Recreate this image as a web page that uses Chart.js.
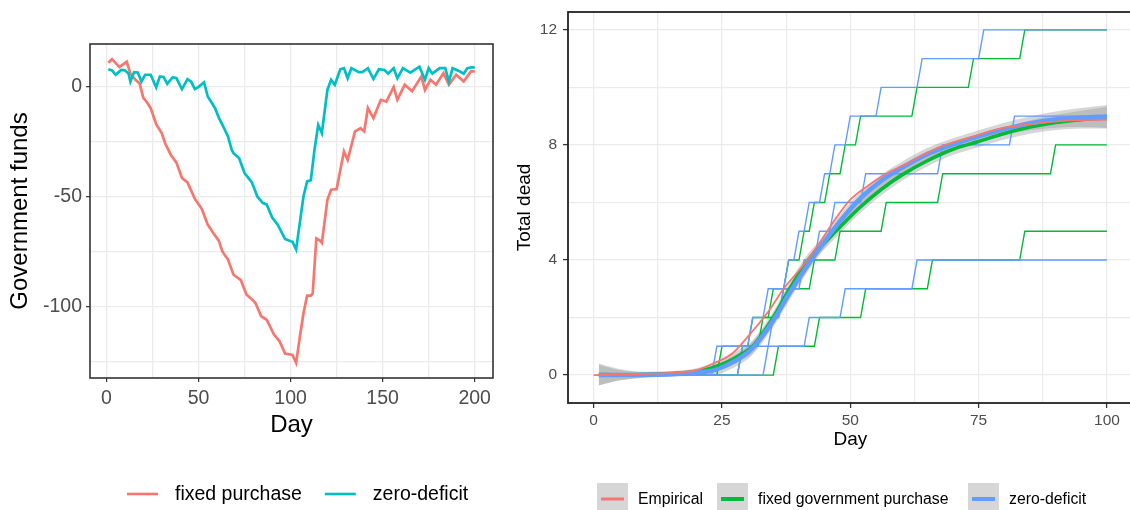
<!DOCTYPE html>
<html>
<head>
<meta charset="utf-8">
<script src="https://cdn.jsdelivr.net/npm/chart.js@4.4.1/dist/chart.umd.min.js"></script>
<style>
  html, body { margin: 0; padding: 0; background: #fff; overflow: hidden; }
  body { width: 1130px; height: 510px; position: relative; }
  #fundsChart { position: absolute; left: 0; top: 0; }
  #deadChart { position: absolute; left: 500px; top: 0; }
</style>
</head>
<body>
<canvas id="fundsChart" width="500" height="510"></canvas>
<canvas id="deadChart" width="634" height="510"></canvas>
<script>
// ---- left panel: government funds by day ----
const fixedDays = [1, 3, 7, 11, 13, 16, 18, 20, 22, 24,
  27, 30, 32, 35, 38, 41, 44, 48, 51, 52,
  55, 58, 61, 63, 66, 69, 73, 76, 80, 81,
  84, 87, 91, 94, 97, 100, 101, 103, 105, 107,
  109, 111, 112, 114, 116, 117, 120, 122, 125, 129,
  131, 135, 138, 140, 142, 145, 149, 152, 156, 158,
  162, 166, 171, 173, 176, 179, 183, 186, 190, 194,
  198, 200];
const fixedFunds = [11, 12.6, 9, 11.4, 6, 3, 1.5, -5, -7, -9.7,
  -17, -21, -26, -31, -34.5, -41.5, -43.5, -51, -54.5, -56,
  -62.7, -66.5, -70, -75, -78.6, -85.5, -88, -94.5, -97.5, -98.5,
  -104.4, -106, -112.7, -115.8, -121.4, -121.8, -122, -125.6, -114, -103,
  -95, -95, -94, -69, -70, -71, -51.4, -46.8, -46.5, -29.4,
  -33.2, -20.3, -18.8, -20.3, -9.7, -14.2, -5.9, -6.7, 0, -5.9,
  1, -2, 4.7, -1.4, 3.2, 1, 6.2, 1, 5.5, 2.4,
  7, 7];

const zeroDays = [1, 3, 5, 8, 10, 12, 13, 15, 17, 19,
  21, 24, 27, 29, 31, 33, 36, 38, 41, 44,
  46, 48, 50, 53, 55, 57, 59, 61, 63, 66,
  68, 69, 72, 75, 79, 82, 85, 87, 90, 93,
  97, 100, 101, 103, 105, 107, 109, 111, 113, 115,
  117, 120, 122, 124, 127, 129, 131, 133, 137, 139,
  142, 145, 148, 151, 153, 156, 158, 161, 165, 170,
  173, 175, 177, 181, 184, 186, 188, 192, 194, 196,
  199, 200];
const zeroFunds = [8, 7.5, 5.5, 7.7, 7.5, 6, 2.4, 6.7, 6.5, 2.4,
  5.5, 5.5, -0.2, 4.7, 4.5, 1.4, 4.4, 4, -1, 3.5,
  2.4, -1, 0, 2, -4.4, -7, -9.7, -14, -17.3, -22.6,
  -28.6, -30.2, -32.4, -39.2, -43.5, -50, -52.9, -53.5, -59.5, -62.7,
  -69.2, -70.3, -70.5, -74, -62, -49.9, -43, -42.5, -28.6, -17.3,
  -21, -1.4, 3.2, 0.9, 8, 8.5, 3.9, 8.5, 6.7, 6.7,
  8.5, 3.6, 8, 7.7, 6, 8.5, 3.9, 8.5, 6.5, 9.2,
  3.2, 8.5, 6, 8.5, 8.5, 2.4, 8.5, 7, 6, 8.5,
  9, 8.5];

const fundsLabels = ['fixed purchase', 'zero-deficit'];

// ---- right panel: total dead by day ----
const empDays = [0, 5, 10, 15, 20, 24, 27, 30, 34, 37, 41, 44, 47, 50, 54, 57, 61, 67, 74, 80, 87, 93, 100];
const empDead = [0, 0.02, 0.04, 0.08, 0.17, 0.46, 0.75, 1.33, 2.2, 3.0, 3.85, 4.6, 5.4, 6.1, 6.65, 7.0, 7.35, 7.9, 8.3, 8.6, 8.76, 8.85, 8.88];

const smoothDays = [1, 5, 10, 15, 20, 23, 26, 29, 31, 35, 38, 42, 45, 48, 52, 56, 60, 65, 70, 75, 80, 85, 90, 95, 100];
const fixedSmooth = [0.02, 0.01, 0.02, 0.05, 0.12, 0.25, 0.45, 0.75, 1.0, 2.0, 2.95, 4.05, 4.6, 5.15, 5.85, 6.45, 6.95, 7.45, 7.85, 8.12, 8.4, 8.62, 8.78, 8.88, 8.95];
const fixedBand = [0.38, 0.2, 0.1, 0.09, 0.12, 0.16, 0.19, 0.21, 0.22, 0.22, 0.22, 0.22, 0.22, 0.22, 0.21, 0.21, 0.2, 0.2, 0.2, 0.2, 0.21, 0.23, 0.26, 0.31, 0.38];
const zeroSmooth = [0.0, 0.0, 0.01, 0.03, 0.09, 0.15, 0.35, 0.65, 0.95, 1.9, 2.8, 3.9, 4.65, 5.35, 6.15, 6.75, 7.2, 7.68, 8.02, 8.3, 8.55, 8.75, 8.88, 8.95, 8.99];
const zeroBand = [0.36, 0.18, 0.1, 0.09, 0.12, 0.17, 0.2, 0.22, 0.23, 0.23, 0.23, 0.23, 0.22, 0.22, 0.22, 0.21, 0.21, 0.21, 0.21, 0.21, 0.22, 0.24, 0.28, 0.33, 0.4];

// day on which each run first reaches 1, 2, 3, ... dead
const fixedRuns = [
  [25, 31, 35, 38, 41, 43, 46, 49, 52, 63, 74, 84],
  [29, 33, 37, 43, 48, 57, 68, 90],
  [36, 44, 53, 66, 84]
];
const zeroRuns = [
  [24, 31, 34, 38, 40, 42, 45, 47, 50, 56, 64, 76],
  [29, 35, 37, 41, 44, 47, 53, 68, 82],
  [34, 42, 49, 63]
];

const deadLabels = ['Empirical', 'fixed government purchase', 'zero-deficit'];

const RED = '#F8766D', CYAN = '#00BFC4', GREEN = '#00BA38', BLUE = '#619CFF';
const BAND = 'rgba(153,153,153,0.4)';
const FONT = '"Liberation Sans", Arial, Helvetica, sans-serif';
Chart.defaults.font.family = FONT;

function toPoints(xs, ys) {
  return xs.map((x, i) => ({ x: x, y: ys[i] }));
}
function bandPoints(xs, ys, hw, sign) {
  return xs.map((x, i) => ({ x: x, y: ys[i] + sign * hw[i] }));
}
function stepPoints(riseDays) {
  const pts = [{ x: 1, y: 0 }];
  riseDays.forEach((d, i) => {
    pts.push({ x: d - 1, y: i });
    pts.push({ x: d, y: i + 1 });
  });
  pts.push({ x: 100, y: riseDays.length });
  return pts;
}

function panelBorder(color, width) {
  return {
    id: 'panelBorder',
    afterDraw(chart) {
      const a = chart.chartArea, ctx = chart.ctx;
      ctx.save();
      ctx.strokeStyle = color;
      ctx.lineWidth = width;
      ctx.strokeRect(a.left, a.top, a.right - a.left, a.bottom - a.top);
      ctx.restore();
    }
  };
}

function tickMark(step) {
  return ctx => (ctx.tick && Math.abs(ctx.tick.value % step) < 1e-6) ? '#333333' : 'rgba(0,0,0,0)';
}
function tickText(step) {
  return v => (Math.abs(v % step) < 1e-6) ? String(v) : '';
}
// keep the plot area where it is: no extra room for edge labels
function fixWidth(w) {
  return s => { s.width = w; s.paddingTop = 0; s.paddingBottom = 0; };
}
function fixHeight(h) {
  return s => { s.height = h; s.paddingLeft = 0; s.paddingRight = 0; };
}

// ---------- left chart ----------
const fundsLegend = {
  id: 'fundsLegend',
  afterDraw(chart) {
    const ctx = chart.ctx;
    const colors = [RED, CYAN];
    ctx.save();
    ctx.font = '19.5px ' + FONT;
    ctx.textBaseline = 'middle';
    let x = 127;
    const y = 494;
    fundsLabels.forEach((label, i) => {
      ctx.strokeStyle = colors[i];
      ctx.lineWidth = 2.6;
      ctx.beginPath();
      ctx.moveTo(x, y);
      ctx.lineTo(x + 31, y);
      ctx.stroke();
      ctx.fillStyle = '#000';
      ctx.fillText(label, x + 48, y + 1);
      x += 48 + ctx.measureText(label).width + 23;
    });
    ctx.restore();
  }
};

new Chart(document.getElementById('fundsChart'), {
  type: 'line',
  data: {
    datasets: [
      { label: fundsLabels[0], data: toPoints(fixedDays, fixedFunds), borderColor: RED,
        borderWidth: 2.7, pointRadius: 0, tension: 0, order: 1 },
      { label: fundsLabels[1], data: toPoints(zeroDays, zeroFunds), borderColor: CYAN,
        borderWidth: 2.7, pointRadius: 0, tension: 0, order: 0 }
    ]
  },
  options: {
    responsive: false,
    animation: false,
    layout: { padding: { top: 44, right: 7, left: 0, bottom: 0 } },
    plugins: { legend: { display: false }, tooltip: { enabled: false } },
    scales: {
      x: {
        type: 'linear', min: -8.95, max: 209.95,
        border: { display: false },
        grid: { color: '#EBEBEB', lineWidth: 1.3, tickLength: 4, tickWidth: 1.2, tickColor: tickMark(50) },
        ticks: { stepSize: 25, includeBounds: false, autoSkip: false, maxRotation: 0, padding: 5,
          color: '#4D4D4D', font: { size: 19.5 }, callback: tickText(50) },
        title: { display: true, text: 'Day', color: '#000', font: { size: 24 }, padding: { top: 0, bottom: 70.6 } },
        afterFit: fixHeight(132)
      },
      y: {
        type: 'linear', min: -132.5, max: 19.5,
        border: { display: false },
        grid: { color: '#EBEBEB', lineWidth: 1.3, tickLength: 4, tickWidth: 1.2, tickColor: tickMark(50) },
        ticks: { stepSize: 25, includeBounds: false, autoSkip: false, padding: 4,
          color: '#4D4D4D', font: { size: 19.5 }, callback: tickText(50) },
        title: { display: true, text: 'Government funds', color: '#000', font: { size: 24 }, padding: { top: 5.6, bottom: 0 } },
        afterFit: fixWidth(90)
      }
    }
  },
  plugins: [panelBorder('#333333', 1.6), fundsLegend]
});

// ---------- right chart ----------
const deadDatasets = [];
deadDatasets.push({ label: deadLabels[0], data: toPoints(empDays, empDead), borderColor: RED,
  borderWidth: 1.8, pointRadius: 0, cubicInterpolationMode: 'monotone', order: 0 });
deadDatasets.push({ label: deadLabels[2], data: toPoints(smoothDays, zeroSmooth), borderColor: BLUE,
  borderWidth: 4.5, pointRadius: 0, cubicInterpolationMode: 'monotone', order: 1 });
deadDatasets.push({ label: deadLabels[1], data: toPoints(smoothDays, fixedSmooth), borderColor: GREEN,
  borderWidth: 3.6, pointRadius: 0, cubicInterpolationMode: 'monotone', order: 2 });
zeroRuns.forEach(run => deadDatasets.push({ data: stepPoints(run), borderColor: BLUE,
  borderWidth: 1.4, pointRadius: 0, tension: 0, order: 3 }));
fixedRuns.forEach(run => deadDatasets.push({ data: stepPoints(run), borderColor: GREEN,
  borderWidth: 1.4, pointRadius: 0, tension: 0, order: 4 }));
[[fixedSmooth, fixedBand], [zeroSmooth, zeroBand]].forEach(([mid, hw]) => {
  const lowIndex = deadDatasets.length;
  deadDatasets.push({ data: bandPoints(smoothDays, mid, hw, -1), borderWidth: 0, pointRadius: 0,
    cubicInterpolationMode: 'monotone', fill: false, order: 5 });
  deadDatasets.push({ data: bandPoints(smoothDays, mid, hw, 1), borderWidth: 0, pointRadius: 0,
    cubicInterpolationMode: 'monotone', fill: { target: lowIndex }, backgroundColor: BAND, order: 5 });
});

const deadLegend = {
  id: 'deadLegend',
  afterDraw(chart) {
    const ctx = chart.ctx;
    const colors = [RED, GREEN, BLUE];
    const widths = [3, 4, 4];
    const boxX = [97, 217, 468];
    ctx.save();
    ctx.font = '15.8px ' + FONT;
    ctx.textBaseline = 'middle';
    deadLabels.forEach((label, i) => {
      const x = boxX[i];
      ctx.fillStyle = '#D6D6D6';
      ctx.fillRect(x, 483, 31, 31);
      ctx.strokeStyle = colors[i];
      ctx.lineWidth = widths[i];
      ctx.beginPath();
      ctx.moveTo(x + 4, 499);
      ctx.lineTo(x + 27, 499);
      ctx.stroke();
      ctx.fillStyle = '#000';
      ctx.fillText(label, x + 41, 500);
    });
    ctx.restore();
  }
};

new Chart(document.getElementById('deadChart'), {
  type: 'line',
  data: { datasets: deadDatasets },
  options: {
    responsive: false,
    animation: false,
    layout: { padding: { top: 12, right: 1.4, left: 0, bottom: 0 } },
    plugins: { legend: { display: false }, tooltip: { enabled: false } },
    scales: {
      x: {
        type: 'linear', min: -5, max: 105,
        border: { display: false },
        grid: { color: '#EBEBEB', lineWidth: 1.2, tickLength: 5, tickWidth: 1.3, tickColor: tickMark(25) },
        ticks: { stepSize: 12.5, includeBounds: false, autoSkip: false, maxRotation: 0, padding: 3,
          color: '#4D4D4D', font: { size: 15.5 }, callback: tickText(25) },
        title: { display: true, text: 'Day', color: '#000', font: { size: 19 }, padding: { top: 0, bottom: 58.6 } },
        afterFit: fixHeight(107)
      },
      y: {
        type: 'linear', min: -0.97, max: 12.62,
        border: { display: false },
        grid: { color: '#EBEBEB', lineWidth: 1.2, tickLength: 5, tickWidth: 1.3, tickColor: tickMark(4) },
        ticks: { stepSize: 2, includeBounds: false, autoSkip: false, padding: 6,
          color: '#4D4D4D', font: { size: 15.5 }, callback: tickText(4) },
        title: { display: true, text: 'Total dead', color: '#000', font: { size: 19 }, padding: { top: 13.6, bottom: 0 } },
        afterFit: fixWidth(68)
      }
    }
  },
  plugins: [panelBorder('#222222', 1.8), deadLegend]
});
</script>
</body>
</html>
